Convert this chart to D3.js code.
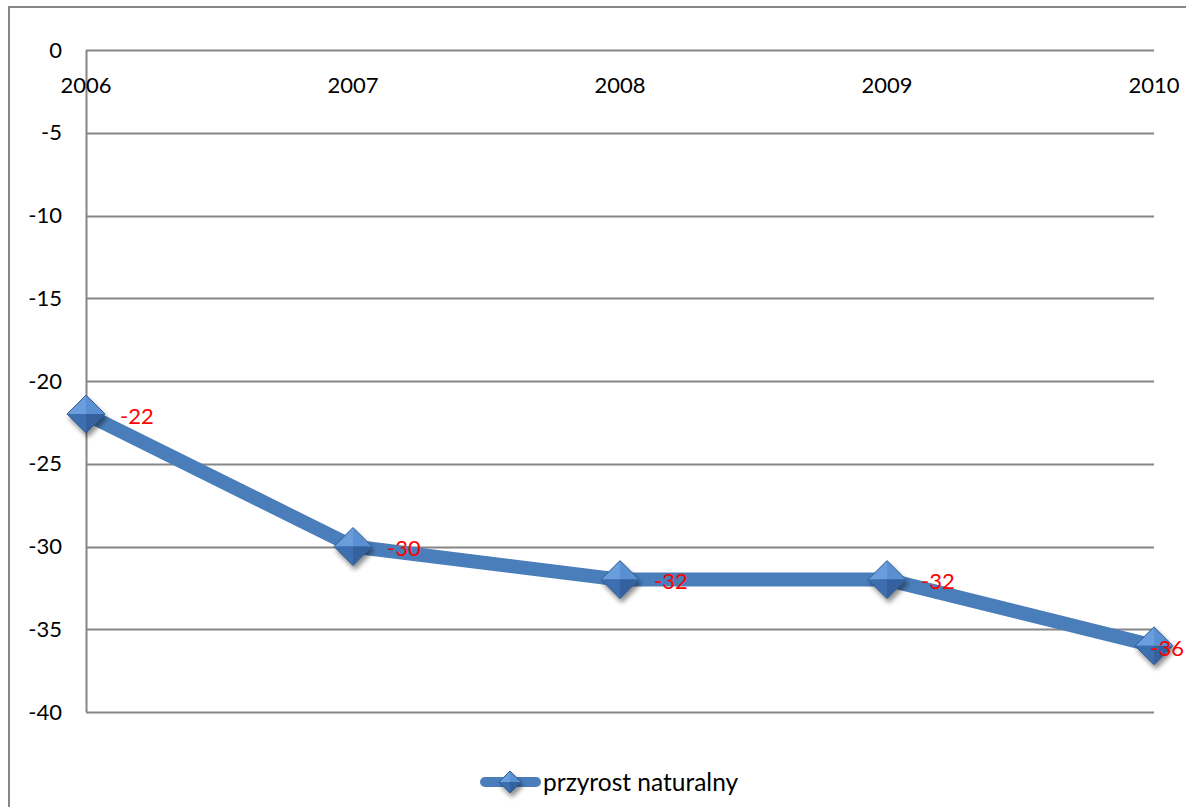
<!DOCTYPE html>
<html>
<head>
<meta charset="utf-8">
<script src="https://cdn.jsdelivr.net/npm/d3@7"></script>
<style>
  html, body { margin: 0; padding: 0; background: #fff; }
  svg { display: block; font-family: Lato, "Open Sans", sans-serif; }
</style>
</head>
<body>
<svg id="chart" width="1186" height="807"></svg>
<script>
// Natural increase by year
const years = ["2006", "2007", "2008", "2009", "2010"];
const values = [-22, -30, -32, -32, -36];
const yTicks = [0, -5, -10, -15, -20, -25, -30, -35, -40];
const seriesName = "przyrost naturalny";

const W = 1186;
const svg = d3.select("#chart");
const plot = { left: 86, right: 1154, top: 50, bottom: 712 };

const x = d3.scalePoint().domain(years).range([plot.left, plot.right]);
const y = d3.scaleLinear().domain([-40, 0]).range([plot.bottom, plot.top]);

const defs = svg.append("defs");
const shadow = defs.append("filter").attr("id", "shadow")
  .attr("x", "-50%").attr("y", "-50%").attr("width", "200%").attr("height", "200%");
shadow.append("feGaussianBlur").attr("in", "SourceAlpha").attr("stdDeviation", 2.5);
shadow.append("feOffset").attr("dx", 2).attr("dy", 4).attr("result", "b");
shadow.append("feComponentTransfer").append("feFuncA").attr("type", "linear").attr("slope", 0.45);
const merge = shadow.append("feMerge");
merge.append("feMergeNode");
merge.append("feMergeNode").attr("in", "SourceGraphic");

// outer chart frame (continues past the right and bottom edges)
svg.append("path")
  .attr("d", "M9,807 V7 H1186")
  .attr("fill", "none").attr("stroke", "#868686").attr("stroke-width", 2);

// horizontal gridlines
svg.append("g").selectAll("line").data(yTicks).join("line")
  .attr("x1", plot.left).attr("x2", plot.right)
  .attr("y1", d => Math.round(y(d)) + 0.5).attr("y2", d => Math.round(y(d)) + 0.5)
  .attr("stroke", "#868686").attr("stroke-width", 2);

// vertical axis line
svg.append("line")
  .attr("x1", plot.left + 0.5).attr("x2", plot.left + 0.5)
  .attr("y1", y(0)).attr("y2", y(-40))
  .attr("stroke", "#868686").attr("stroke-width", 2);

// y tick labels
svg.append("g").selectAll("text").data(yTicks).join("text")
  .attr("x", 62).attr("y", d => y(d))
  .attr("dy", "0.35em").attr("text-anchor", "end")
  .attr("font-size", 22).attr("fill", "#000")
  .text(d => d);

// category labels just below the zero line
svg.append("g").selectAll("text").data(years).join("text")
  .attr("x", d => x(d)).attr("y", 85)
  .attr("dy", "0.35em").attr("text-anchor", "middle")
  .attr("font-size", 22).attr("fill", "#000")
  .text(d => d);

const pts = years.map((yr, i) => ({ yr, v: values[i] }));

// series line
svg.append("path")
  .datum(pts)
  .attr("d", d3.line().x(d => x(d.yr)).y(d => y(d.v)))
  .attr("fill", "none").attr("stroke", "#4a7ebb")
  .attr("stroke-width", 14).attr("stroke-linejoin", "round");

// bevelled diamond marker
function diamond(g, r) {
  const facets = [
    { p: [[0, -r], [-r, 0], [0, 0]], c: "#6b9ddc" },
    { p: [[0, -r], [r, 0], [0, 0]], c: "#5a8fd2" },
    { p: [[-r, 0], [0, r], [0, 0]], c: "#3d6eaf" },
    { p: [[r, 0], [0, r], [0, 0]], c: "#34629f" }
  ];
  const m = g.append("g").attr("filter", "url(#shadow)");
  m.selectAll("path").data(facets).join("path")
    .attr("d", f => "M" + f.p.map(q => q.join(",")).join("L") + "Z")
    .attr("fill", f => f.c);
  m.append("path")
    .attr("d", `M0,${-r}L${r},0L0,${r}L${-r},0Z`)
    .attr("fill", "none").attr("stroke", "#2f5a92").attr("stroke-width", 1);
}

svg.append("g").selectAll("g").data(pts).join("g")
  .attr("transform", d => `translate(${x(d.yr)},${y(d.v)})`)
  .each(function () { diamond(d3.select(this), 19); });

// data labels, kept inside the frame at the right edge
svg.append("g").selectAll("text").data(pts).join("text")
  .each(function (d) {
    const t = d3.select(this);
    const lx = x(d.yr) + 34;
    if (lx + 34 > W) {
      t.attr("x", W - 2).attr("text-anchor", "end");
    } else {
      t.attr("x", lx);
    }
  })
  .attr("y", d => y(d.v) + 2)
  .attr("dy", "0.35em")
  .attr("font-size", 22).attr("fill", "#ff0000")
  .text(d => d.v);

// legend
const lg = svg.append("g").attr("transform", "translate(0,782)");
lg.append("line").attr("x1", 485).attr("x2", 536).attr("y1", 0).attr("y2", 0)
  .attr("stroke", "#4a7ebb").attr("stroke-width", 10).attr("stroke-linecap", "round");
diamond(lg.append("g").attr("transform", "translate(510,0)"), 11);
lg.append("text").attr("x", 543).attr("y", 0).attr("dy", "0.35em")
  .attr("font-size", 24.5).attr("fill", "#000").text(seriesName);
</script>
</body>
</html>
